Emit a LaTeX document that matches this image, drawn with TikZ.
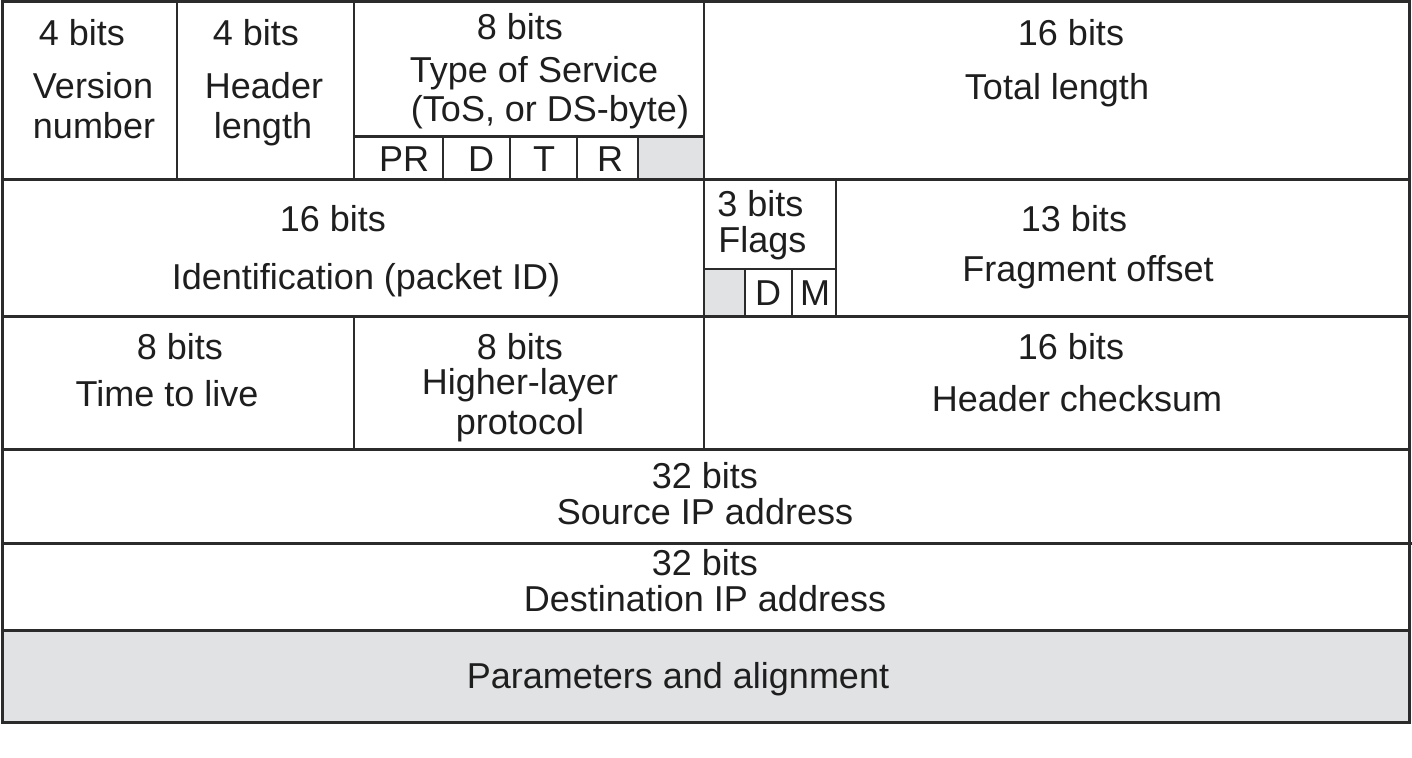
\documentclass[tikz,border=0pt]{standalone}
\usepackage{fontspec}
\setmainfont{Liberation Sans}
\usepackage{xcolor}
\usepackage{tikz}

\definecolor{linegray}{HTML}{2B2B2B}
\definecolor{txtgray}{HTML}{1E1E1E}
\definecolor{cellgray}{HTML}{E1E2E4}

\begin{document}
\begin{tikzpicture}[
    x=0.5pt, y=-0.5pt,
    heavy/.style={draw=linegray, line width=1.5pt},
    medium/.style={draw=linegray, line width=1pt},
    light/.style={draw=linegray, line width=0.65pt},
    shade/.style={fill=cellgray},
    lbl/.style={anchor=base, inner sep=0pt, text=txtgray, font=\fontsize{18}{20}\selectfont},
    lbll/.style={lbl, anchor=base west}
]
    \useasboundingbox (0,0) rectangle (1412,758);

    % grey cells
    \fill[shade] (638,137) rectangle (704,180);
    \fill[shade] (704,269) rectangle (745,317);
    \fill[shade] (2,630) rectangle (1409,722);

    % row separators
    \draw[heavy] (2,180) -- (1409,180);
    \draw[heavy] (2,317) -- (1409,317);
    \draw[heavy] (2,450) -- (1409,450);
    \draw[heavy] (4,543) -- (1412,543);
    \draw[heavy] (2,630) -- (1409,630);
    \draw[heavy] (354,137) -- (704,137);
    \draw[light] (704,269) -- (836,269);

    % column lines
    \draw[medium] (177,2) -- (177,180);
    \draw[medium] (354,2) -- (354,180);
    \draw[medium] (704,2) -- (704,450);
    \draw[medium] (354,317) -- (354,450);
    \draw[light] (836,180) -- (836,317);
    \foreach \xx in {443,510,577,638}
        \draw[light] (\xx,137) -- (\xx,180);
    \foreach \xx in {745,792}
        \draw[light] (\xx,269) -- (\xx,317);

    % outer frame
    \draw[heavy] (2,2) rectangle (1409,722);

    % row 1
    \node[lbl] (verbits) at (82,46) {4 bits};
    \node[lbl] (vername) at (93,99) {Version};
    \node[lbl] (vernum) at (94,139) {number};
    \node[lbl] (hlbits) at (256,46) {4 bits};
    \node[lbl] (hlname) at (264,99) {Header};
    \node[lbl] (hllen) at (263,139) {length};
    \node[lbl] (tosbits) at (520,40) {8 bits};
    \node[lbl] (tosname) at (534,83) {Type of Service};
    \node[lbl] (tosnote) at (550,122) {(ToS, or DS-byte)};
    \node[lbl] (tospr) at (404,172) {PR};
    \node[lbl] (tosd) at (481,172) {D};
    \node[lbl] (tost) at (544,172) {T};
    \node[lbl] (tosr) at (610,172) {R};
    \node[lbl] (tlbits) at (1071,46) {16 bits};
    \node[lbl] (tlname) at (1057,100) {Total length};

    % row 2
    \node[lbl] (idbits) at (333,232) {16 bits};
    \node[lbl] (idname) at (366,290) {Identification (packet ID)};
    \node[lbll] (flbits) at (717,217) {3 bits};
    \node[lbll] (flname) at (718,253) {Flags};
    \node[lbl] (fld) at (768,306) {D};
    \node[lbl] (flm) at (815,306) {M};
    \node[lbl] (fobits) at (1074,232) {13 bits};
    \node[lbl] (foname) at (1088,282) {Fragment offset};

    % row 3
    \node[lbl] (ttlbits) at (180,360) {8 bits};
    \node[lbl] (ttlname) at (167,407) {Time to live};
    \node[lbl] (prbits) at (520,360) {8 bits};
    \node[lbl] (prname) at (520,395) {Higher-layer};
    \node[lbl] (prname2) at (520,435) {protocol};
    \node[lbl] (hcbits) at (1071,360) {16 bits};
    \node[lbl] (hcname) at (1077,412) {Header checksum};

    % rows 4 to 6
    \node[lbl] (srcbits) at (705,488) {32 bits};
    \node[lbl] (srcname) at (705,524) {Source IP address};
    \node[lbl] (dstbits) at (705,575) {32 bits};
    \node[lbl] (dstname) at (705,611) {Destination IP address};
    \node[lbl] (optname) at (678,688) {Parameters and alignment};
\end{tikzpicture}
\end{document}
